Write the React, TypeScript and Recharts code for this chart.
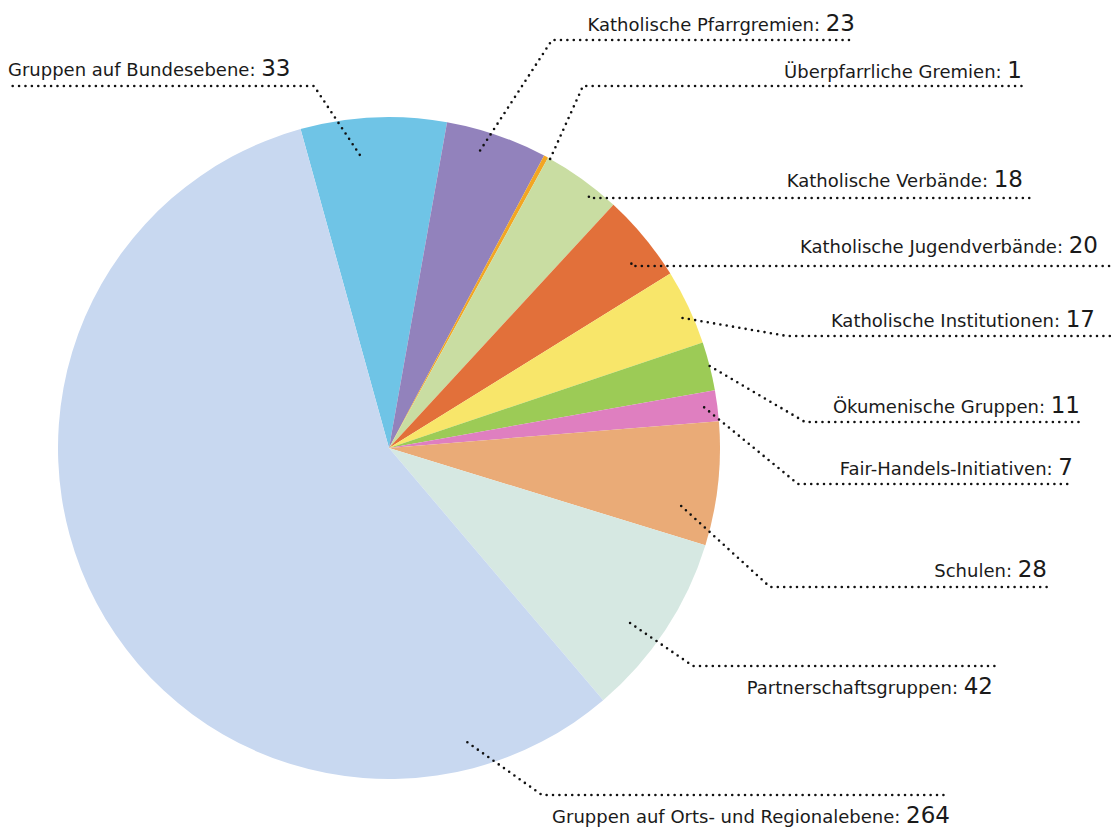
import React from "react";
import { PieChart, Pie, Cell } from "recharts";

const names = [
  "Gruppen auf Bundesebene",
  "Katholische Pfarrgremien",
  "Überpfarrliche Gremien",
  "Katholische Verbände",
  "Katholische Jugendverbände",
  "Katholische Institutionen",
  "Ökumenische Gruppen",
  "Fair-Handels-Initiativen",
  "Schulen",
  "Partnerschaftsgruppen",
  "Gruppen auf Orts- und Regionalebene",
];
const values = [33, 23, 1, 18, 20, 17, 11, 7, 28, 42, 264];
const colors = [
  "#6fc4e6", "#9282bc", "#f2a623", "#c9dda2", "#e2703a", "#f8e66a",
  "#9ccb56", "#df7fc0", "#eaab77", "#d6e8e2", "#c8d8f0",
];

// leader layout: angle shift / radius fraction for the start dot, elbow, line end, text placement
const leaders = [
  { da: 3, rf: 0.89, ex: 314, ey: 86, lx: 8, tx: 8, ty: 76, anchor: "start" },
  { da: 2, rf: 0.94, ex: 552, ey: 40, lx: 855, tx: 855, ty: 31, anchor: "end" },
  { da: -0.8, rf: 1.0, ex: 583, ey: 86, lx: 1022, tx: 1022, ty: 78, anchor: "end" },
  { da: -2.8, rf: 0.97, ex: null, ey: 198, lx: 1035, tx: 1023, ty: 187, anchor: "end" },
  { da: -2.3, rf: 0.92, ex: null, ey: 266, lx: 1110, tx: 1098, ty: 253, anchor: "end" },
  { da: -1.3, rf: 0.97, ex: 787, ey: 336, lx: 1110, tx: 1095, ty: 327, anchor: "end" },
  { da: 0, rf: 1.0, ex: 805, ey: 422, lx: 1082, tx: 1080, ty: 413, anchor: "end" },
  { da: 0, rf: 0.96, ex: 798, ey: 484, lx: 1073, tx: 1073, ty: 475, anchor: "end" },
  { da: -5, rf: 0.9, ex: 770, ey: 587, lx: 1048, tx: 1047, ty: 577, anchor: "end" },
  { da: -2.6, rf: 0.9, ex: 693, ey: 666, lx: 995, tx: 993, ty: 694, anchor: "end" },
  { da: 77, rf: 0.92, ex: 542, ey: 795, lx: 949, tx: 950, ty: 823, anchor: "end" },
];

const data = names.map((name, i) => ({ name, value: values[i] }));

const RAD = Math.PI / 180;
const FONT = "'DejaVu Sans', sans-serif";

function renderLabel(props: any) {
  const { cx, cy, midAngle, outerRadius, index, name, value } = props;
  const l = leaders[index];
  const a = (midAngle + l.da) * RAD;
  const r = outerRadius * l.rf;
  const sx = cx + r * Math.cos(a);
  const sy = cy - r * Math.sin(a);
  const ex = l.ex == null ? sx : l.ex;
  const d = `M${sx},${sy} L${ex},${l.ey} L${l.lx},${l.ey}`;
  return (
    <g key={`lbl-${index}`}>
      <path
        d={d}
        fill="none"
        stroke="#111"
        strokeWidth={2.6}
        strokeLinecap="round"
        strokeDasharray="0 6.4"
      />
      <text
        x={l.tx}
        y={l.ty}
        textAnchor={l.anchor}
        fontFamily={FONT}
        fill="#1a1a1a"
        style={{ whiteSpace: "pre" }}
      >
        <tspan fontSize={18}>{`${name}: `}</tspan>
        <tspan fontSize={23}>{value}</tspan>
      </text>
    </g>
  );
}

export default function App() {
  return (
    <div style={{ position: "absolute", left: 0, top: 0, background: "#fff" }}>
      <PieChart width={1117} height={827} margin={{ top: 0, right: 0, bottom: 0, left: 0 }}>
        <Pie
          data={data}
          dataKey="value"
          nameKey="name"
          cx={389}
          cy={448}
          outerRadius={331}
          startAngle={105.5}
          endAngle={-254.5}
          stroke="none"
          isAnimationActive={false}
          labelLine={false}
          label={renderLabel}
        >
          {data.map((d, i) => (
            <Cell key={d.name} fill={colors[i]} />
          ))}
        </Pie>
      </PieChart>
    </div>
  );
}
